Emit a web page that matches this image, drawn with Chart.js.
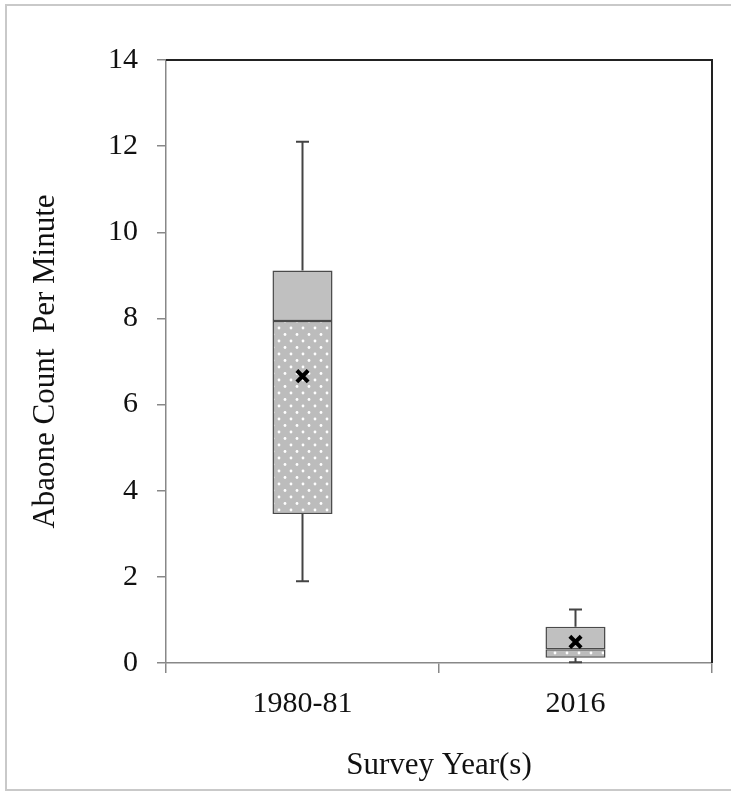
<!DOCTYPE html>
<html>
<head>
<meta charset="utf-8">
<script src="https://cdn.jsdelivr.net/npm/chart.js@4"></script>
<style>
  html, body { margin: 0; padding: 0; background: #fff; overflow: hidden; }
  #wrap { position: relative; width: 731px; height: 794px; overflow: hidden; }
  #frame { position: absolute; left: 5px; top: 4px; width: 760px; height: 783px; border: 2px solid #c9c9c9; }
  #myChart { position: absolute; left: 0; top: 0; }
</style>
</head>
<body>
<div id="wrap">
  <div id="frame"></div>
  <canvas id="myChart" width="731" height="794"></canvas>
</div>
<script>
const categories = ["1980-81", "2016"];
const mins = [1.9, 0.02];
const q1 = [3.46, 0.12];
const medians = [7.94, 0.32];
const q3 = [9.11, 0.84];
const maxs = [12.1, 1.24];
const means = [6.66, 0.49];
const yTicks = [0, 2, 4, 6, 8, 10, 12, 14];

const tickFont = { family: "'Liberation Serif', 'Times New Roman', serif", size: 30 };
const titleFont = { family: "'Liberation Serif', 'Times New Roman', serif", size: 31 };
const textColor = "#111";

// dotted fill for the lower half of each box
function dotPattern() {
  const c = document.createElement("canvas");
  c.width = 12;
  c.height = 13;
  const g = c.getContext("2d");
  g.fillStyle = "#bcbcbc";
  g.fillRect(0, 0, 12, 13);
  g.fillStyle = "#ffffff";
  [[3, 3], [9, 9.5]].forEach(([x, y]) => {
    g.beginPath();
    g.arc(x, y, 1.4, 0, Math.PI * 2);
    g.fill();
  });
  return g.createPattern(c, "repeat");
}

const whiskers = {
  id: "whiskers",
  beforeDatasetsDraw(chart) {
    const { ctx, scales: { x, y } } = chart;
    ctx.save();
    ctx.strokeStyle = "#444";
    ctx.lineWidth = 2;
    categories.forEach((c, i) => {
      const px = x.getPixelForValue(i);
      const capHalf = 6.5;
      [[q3[i], maxs[i]], [q1[i], mins[i]]].forEach(([from, to]) => {
        ctx.beginPath();
        ctx.moveTo(px, y.getPixelForValue(from));
        ctx.lineTo(px, y.getPixelForValue(to));
        ctx.moveTo(px - capHalf, y.getPixelForValue(to));
        ctx.lineTo(px + capHalf, y.getPixelForValue(to));
        ctx.stroke();
      });
    });
    ctx.restore();
  },
  afterDraw(chart) {
    // top and right edges of the plot area
    const { ctx, chartArea: a } = chart;
    ctx.save();
    ctx.strokeStyle = "#222";
    ctx.lineWidth = 2;
    ctx.beginPath();
    ctx.moveTo(a.left, a.top);
    ctx.lineTo(a.right, a.top);
    ctx.lineTo(a.right, a.bottom);
    ctx.stroke();
    ctx.restore();
  }
};

const barCommon = {
  borderColor: "#4a4a4a",
  borderWidth: 1.5,
  borderSkipped: false,
  grouped: false,
  barPercentage: 0.22,
  categoryPercentage: 1,
  order: 1
};

new Chart(document.getElementById("myChart"), {
  type: "bar",
  data: {
    labels: categories,
    datasets: [
      Object.assign({
        label: "Q1-Median",
        data: categories.map((c, i) => [q1[i], medians[i]]),
        backgroundColor: dotPattern()
      }, barCommon),
      Object.assign({
        label: "Median-Q3",
        data: categories.map((c, i) => [medians[i], q3[i]]),
        backgroundColor: "#c0c0c0"
      }, barCommon),
      {
        type: "line",
        label: "Mean",
        data: means,
        showLine: false,
        pointStyle: "crossRot",
        pointRadius: 8,
        pointBorderWidth: 4,
        pointBorderColor: "#000",
        pointBackgroundColor: "#000",
        order: 0
      }
    ]
  },
  options: {
    responsive: false,
    animation: false,
    devicePixelRatio: 1,
    layout: { padding: { top: 60, right: 19, left: 0, bottom: 0 } },
    plugins: { legend: { display: false }, tooltip: { enabled: false } },
    scales: {
      x: {
        grid: { offset: true, drawOnChartArea: false, tickLength: 10, color: "#888", lineWidth: 1.5 },
        border: { color: "#888", width: 1.5 },
        ticks: { font: tickFont, color: textColor, padding: 13 },
        title: { display: true, text: "Survey Year(s)", font: titleFont, color: textColor, padding: { top: 0, bottom: 10 } },
        afterFit(s) { s.height = 131; }
      },
      y: {
        min: 0,
        max: 14,
        afterBuildTicks(s) { s.ticks = yTicks.map(v => ({ value: v })); },
        grid: { drawOnChartArea: false, tickLength: 9, color: "#888", lineWidth: 1.5 },
        border: { color: "#888", width: 1.5 },
        ticks: { font: tickFont, color: textColor, padding: 19 },
        title: { display: true, text: "Abaone Count  Per Minute", font: titleFont, color: textColor, padding: { top: 27, bottom: 0 } },
        afterFit(s) { s.width = 166; }
      }
    }
  },
  plugins: [whiskers]
});
</script>
</body>
</html>
